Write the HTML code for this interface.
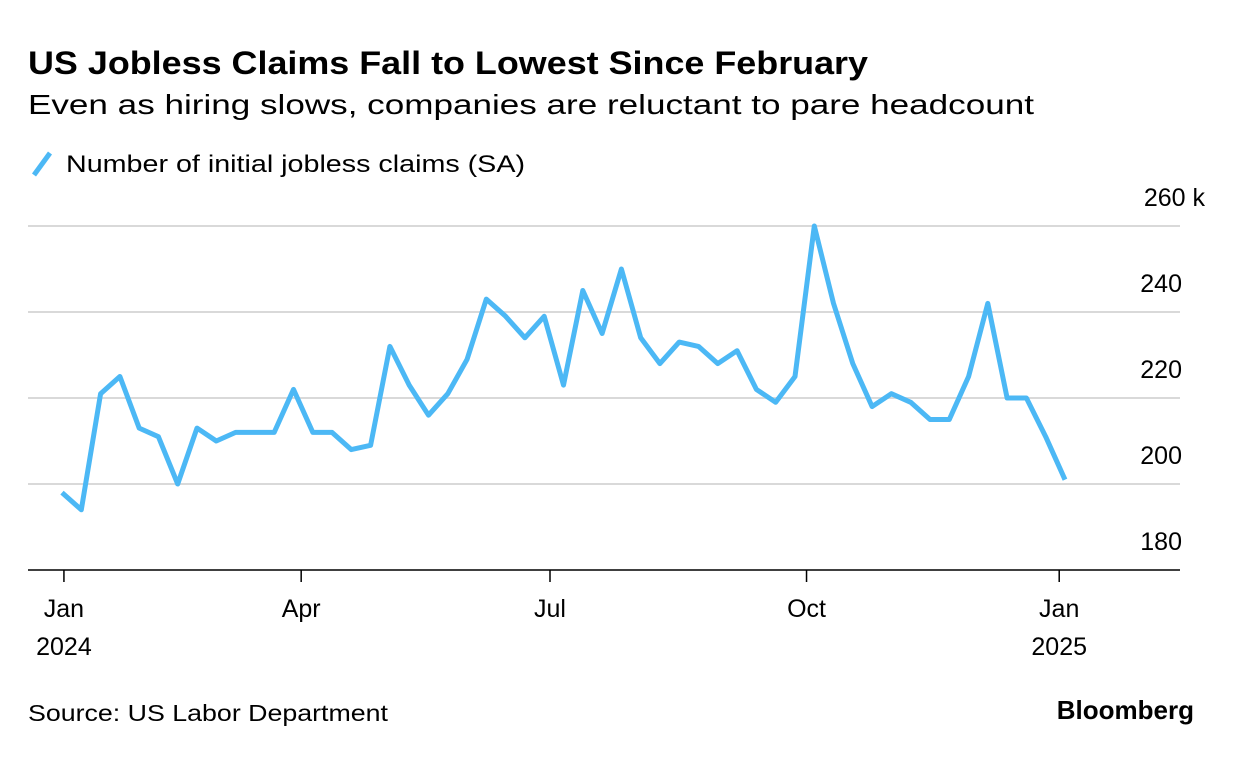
<!DOCTYPE html>
<html><head><meta charset="utf-8"><style>
body{margin:0;background:#fff;width:1233px;height:770px;overflow:hidden;font-family:"Liberation Sans",sans-serif;color:#000}
</style></head><body>
<svg width="1233" height="770" font-family="Liberation Sans, sans-serif">
<text x="28" y="74" font-size="32" font-weight="bold" textLength="840" lengthAdjust="spacingAndGlyphs">US Jobless Claims Fall to Lowest Since February</text>
<text x="28" y="114" font-size="28" textLength="1006" lengthAdjust="spacingAndGlyphs">Even as hiring slows, companies are reluctant to pare headcount</text>
<line x1="34" y1="175" x2="50" y2="153" stroke="#4cb8f5" stroke-width="5"/>
<text x="66" y="172" font-size="24" textLength="459" lengthAdjust="spacingAndGlyphs">Number of initial jobless claims (SA)</text>
<g id="grid"></g><g id="yt"></g><g id="xt"></g>
<line x1="28" y1="570" x2="1180" y2="570" stroke="#000" stroke-width="1.5"/>
<path id="line" fill="none" stroke="#4cb8f5" stroke-width="5" stroke-linejoin="round"/>
<text x="28" y="721" font-size="23" textLength="360" lengthAdjust="spacingAndGlyphs">Source: US Labor Department</text>
<text x="1194" y="719" font-size="26" font-weight="bold" text-anchor="end">Bloomberg</text>
</svg>
<script>
const claims=[198,194,221,225,213,211,200,213,210,212,212,212,222,212,212,208,209,232,223,216,221,229,243,239,234,239,223,245,235,250,234,228,233,232,228,231,222,219,225,260,242,228,218,221,219,215,215,225,242,220,220,211,201];
const yTicks=[180,200,220,240,260];
const yTickLabels=["180","200","220","240","260 k"];
const xTickWeeks=[0.1,12.4,25.3,38.6,51.7];
const xTickLabels=[["Jan","2024"],["Apr",""],["Jul",""],["Oct",""],["Jan","2025"]];
const ns="http://www.w3.org/2000/svg";
const y=v=>570-(v-180)*4.3;
const x=i=>62+i*(1065-62)/52;
function mk(t,a,p){const e=document.createElementNS(ns,t);for(const k in a)e.setAttribute(k,a[k]);p.appendChild(e);return e;}
const grid=document.getElementById('grid'),yt=document.getElementById('yt'),xt=document.getElementById('xt');
yTicks.forEach((v,i)=>{
 if(v>180){const l=mk('line',{x1:28,x2:1180,y1:y(v),y2:y(v),stroke:'#d9d9d9','stroke-width':2},grid);
 
 }
 const t=mk('text',{x:1182,y:y(v)-20,'font-size':25,'text-anchor':'end'},yt);
 if(i===yTicks.length-1){t.setAttribute('x',1205);}
 t.textContent=yTickLabels[i];
 
 
});
xTickWeeks.forEach((w,i)=>{
 const l=mk('line',{x1:x(w),x2:x(w),y1:570,y2:582,stroke:'#000','stroke-width':1.5},xt);
 
 
 xTickLabels[i].forEach((s,j)=>{if(!s)return;
  const t=mk('text',{x:x(w),y:617+j*38,'font-size':25,'text-anchor':'middle'},xt);
  t.textContent=s;
  
  });
});
document.getElementById('line').setAttribute('d',claims.map((v,i)=>(i?'L':'M')+x(i).toFixed(1)+','+y(v).toFixed(1)).join(''));
</script>
</body></html>
